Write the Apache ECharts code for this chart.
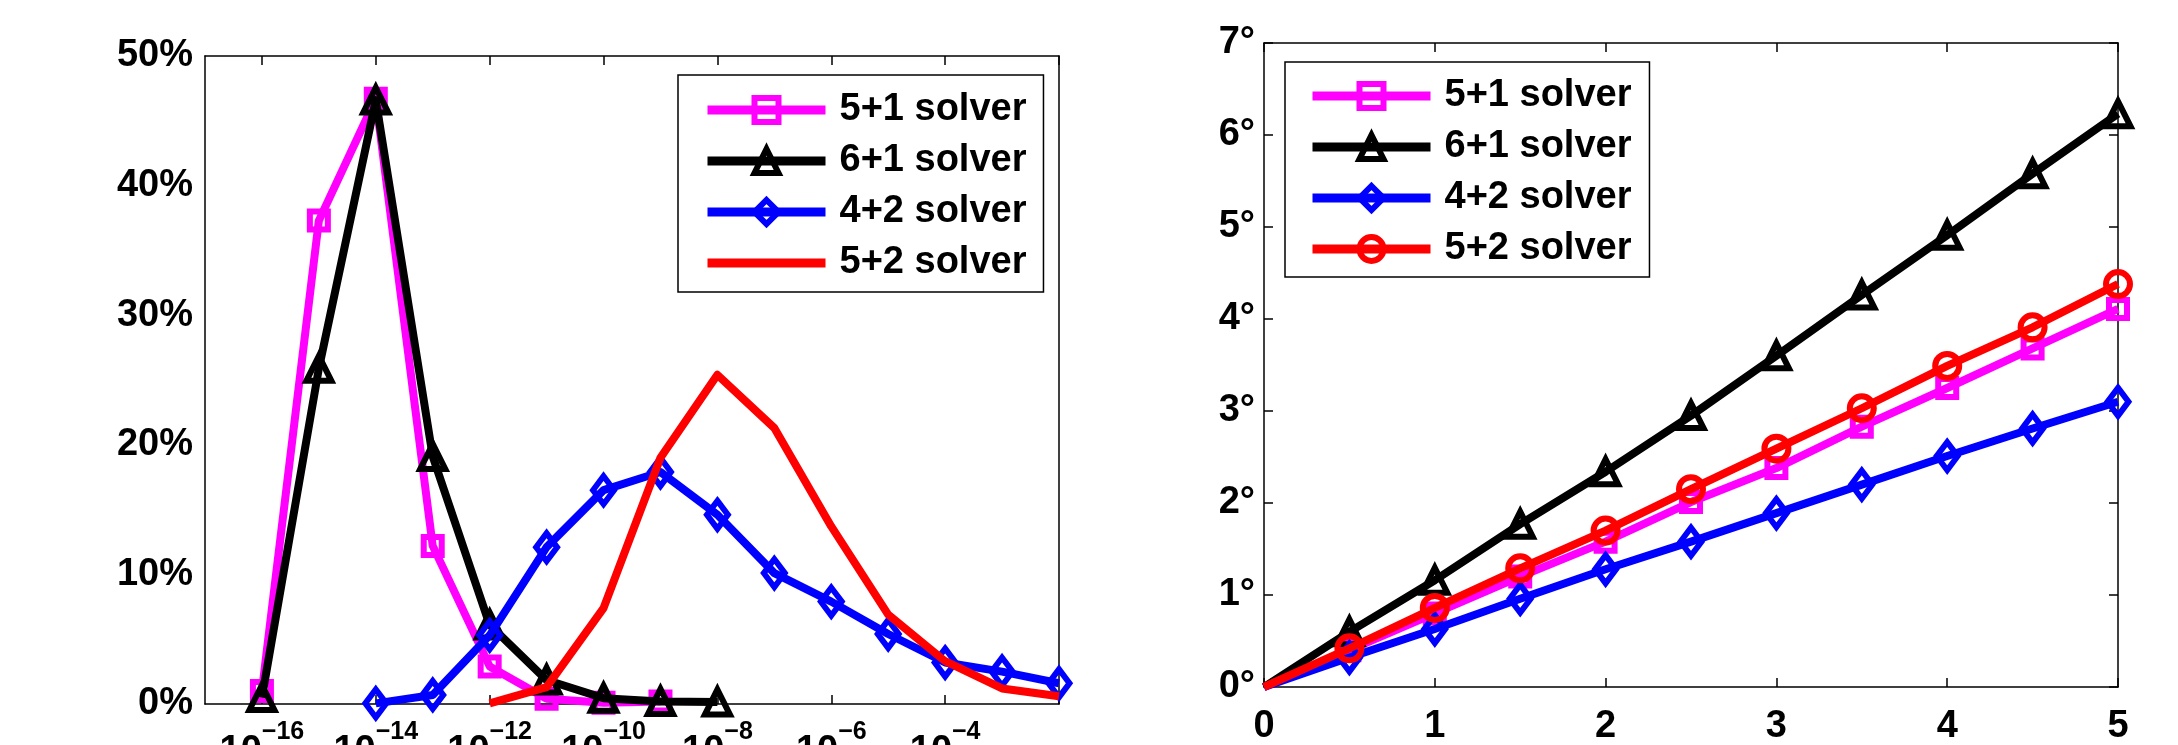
<!DOCTYPE html>
<html>
<head>
<meta charset="utf-8">
<title>solver accuracy</title>
<script src="https://cdn.jsdelivr.net/npm/echarts@6/dist/echarts.min.js"></script>
<style>
    html, body { margin: 0; padding: 0; background: #fff; }
    #chart { width: 2178px; height: 745px; }
</style>
</head>
<body>
<div id="chart"></div>
<script>
// left panel: distribution of the error, x = exponent of 10
const errExponents = [-17, -16, -15, -14, -13, -12, -11, -10, -9, -8, -7, -6, -5, -4, -3, -2];

const err51X = [-16, -15, -14, -13, -12, -11, -10, -9];
const err51Pct = [1.0, 37.3, 46.7, 12.2, 2.9, 0.4, 0.1, 0.2];

const err61X = [-16, -15, -14, -13, -12, -11, -10, -9, -8];
const err61Pct = [0.5, 25.9, 46.6, 19.1, 6.1, 1.85, 0.45, 0.2, 0.15];

const err42X = [-14, -13, -12, -11, -10, -9, -8, -7, -6, -5, -4, -3, -2];
const err42Pct = [0.05, 0.7, 5.3, 12.1, 16.5, 17.9, 14.6, 10.1, 7.9, 5.4, 3.2, 2.5, 1.6];

const err52X = [-12, -11, -10, -9, -8, -7, -6, -5, -4, -3, -2];
const err52Pct = [0.05, 1.3, 7.4, 19.0, 25.4, 21.3, 13.7, 6.9, 3.3, 1.2, 0.6];

// right panel: angular error against noise level
const noiseLevels = [0, 0.5, 1, 1.5, 2, 2.5, 3, 3.5, 4, 4.5, 5];
const ang51 = [0, 0.40, 0.80, 1.20, 1.58, 2.01, 2.38, 2.83, 3.25, 3.68, 4.11];
const ang61 = [0, 0.60, 1.16, 1.77, 2.34, 2.95, 3.60, 4.26, 4.91, 5.58, 6.23];
const ang42 = [0, 0.32, 0.63, 0.96, 1.28, 1.58, 1.89, 2.20, 2.51, 2.81, 3.10];
const ang52 = [0, 0.42, 0.86, 1.29, 1.70, 2.15, 2.59, 3.03, 3.49, 3.91, 4.38];

const solverNames = ['5+1 solver', '6+1 solver', '4+2 solver', '5+2 solver'];

const FONT = '"Liberation Sans", Arial, Helvetica, sans-serif';
const LW = 8;      // line width
const MW = 6;      // marker edge width
const CLEAR = 'rgba(0,0,0,0)';

const mychart = echarts.init(document.getElementById('chart'), null, { renderer: 'canvas' });

// x index -> category name
const pairs = (xs, ys) => xs.map((x, i) => [String(x), ys[i]]);
// first point of the right panel has no marker
const noFirstMark = (xs, ys) => xs.map((x, i) => i === 0 ? { value: [x, ys[i]], symbol: 'none' } : [x, ys[i]]);

const styles = [
    { color: '#ff00ff', symbol: 'rect', size: 18 },
    { color: '#000000', symbol: 'triangle', size: 25 },
    { color: '#0000ff', symbol: 'diamond', size: [21, 28] },
    { color: '#ff0000', symbol: 'circle', size: 24 }
];

const makeSeries = (idx, name, data, axis, withMarks) => {
    const st = styles[idx];
    return {
        name: name,
        type: 'line',
        xAxisIndex: axis,
        yAxisIndex: axis,
        data: data,
        z: 2 + idx,
        clip: false,
        symbol: withMarks ? st.symbol : 'none',
        symbolSize: st.size,
        showSymbol: withMarks,
        lineStyle: { color: st.color, width: LW, join: 'round' },
        itemStyle: {
            color: CLEAR,
            borderColor: withMarks ? st.color : CLEAR,
            borderWidth: withMarks ? MW : 0
        },
        emphasis: { disabled: true },
        animation: false
    };
};

const tickBase = {
    inside: true,
    length: 9,
    lineStyle: { color: '#000', width: 1.5 }
};
const lineBase = { show: true, onZero: false, lineStyle: { color: '#000', width: 1.5 } };
const labelBase = { color: '#000', fontFamily: FONT, fontSize: 38, fontWeight: 'bold' };

const evenDecade = (index) => index % 2 === 1;

const legendBase = {
    orient: 'vertical',
    selectedMode: false,
    backgroundColor: '#fff',
    borderColor: '#000',
    borderWidth: 1.5,
    borderRadius: 0,
    itemWidth: 118,
    itemHeight: 30,
    itemGap: 13,
    lineStyle: { width: 9 },
    itemStyle: { borderWidth: MW },
    textStyle: { color: '#000', fontFamily: FONT, fontSize: 38, fontWeight: 'bold', padding: [0, 0, 0, 9] }
};

mychart.setOption({
    backgroundColor: '#fff',
    animation: false,
    grid: [
        { left: 205, top: 56, width: 854, height: 648, outerBoundsMode: 'none', containLabel: false },
        { left: 1264, top: 43, width: 854, height: 644, outerBoundsMode: 'none', containLabel: false }
    ],
    legend: [
        Object.assign({}, legendBase, {
            left: 678, top: 75,
            padding: [16, 17, 10, 25],
            data: solverNames.map(n => n + '|err'),
            formatter: (n) => n.split('|')[0]
        }),
        Object.assign({}, legendBase, {
            left: 1285, top: 62,
            padding: [15, 18, 9, 23],
            data: solverNames.map(n => n + '|ang'),
            formatter: (n) => n.split('|')[0]
        })
    ],
    xAxis: [
        {
            type: 'category', gridIndex: 0, position: 'bottom',
            data: errExponents.map(String), boundaryGap: false,
            axisLine: lineBase,
            axisTick: Object.assign({ interval: evenDecade }, tickBase),
            axisLabel: {
                interval: (index) => index % 2 === 1 && index < errExponents.length - 1,
                margin: 16,
                formatter: (v) => '{b|10}{e|' + v.replace('-', '\u2212') + '}',
                rich: {
                    b: { fontFamily: FONT, fontSize: 38, fontWeight: 'bold', color: '#000', lineHeight: 64 },
                    e: { fontFamily: FONT, fontSize: 25, fontWeight: 'bold', color: '#000', lineHeight: 25, verticalAlign: 'top' }
                }
            },
            splitLine: { show: false }
        },
        {
            type: 'category', gridIndex: 0, position: 'top',
            data: errExponents.map(String), boundaryGap: false,
            axisLine: lineBase,
            axisTick: Object.assign({ interval: evenDecade }, tickBase),
            axisLabel: { show: false },
            splitLine: { show: false }
        },
        {
            type: 'value', gridIndex: 1, position: 'bottom',
            min: 0, max: 5, interval: 1,
            axisLine: lineBase,
            axisTick: tickBase,
            axisLabel: Object.assign({ margin: 21 }, labelBase),
            splitLine: { show: false }
        },
        {
            type: 'value', gridIndex: 1, position: 'top',
            min: 0, max: 5, interval: 1,
            axisLine: lineBase,
            axisTick: tickBase,
            axisLabel: { show: false },
            splitLine: { show: false }
        }
    ],
    yAxis: [
        {
            type: 'value', gridIndex: 0, position: 'left',
            min: 0, max: 50, interval: 10,
            axisLine: lineBase,
            axisTick: tickBase,
            axisLabel: Object.assign({ margin: 12, formatter: '{value}%', padding: [8, 0, 0, 0] }, labelBase),
            splitLine: { show: false }
        },
        {
            type: 'value', gridIndex: 0, position: 'right',
            min: 0, max: 50, interval: 10,
            axisLine: lineBase,
            axisTick: tickBase,
            axisLabel: { show: false },
            splitLine: { show: false }
        },
        {
            type: 'value', gridIndex: 1, position: 'left',
            min: 0, max: 7, interval: 1,
            axisLine: lineBase,
            axisTick: tickBase,
            axisLabel: Object.assign({ margin: 9, formatter: '{value}°', padding: [18, 0, 0, 0] }, labelBase),
            splitLine: { show: false }
        },
        {
            type: 'value', gridIndex: 1, position: 'right',
            min: 0, max: 7, interval: 1,
            axisLine: lineBase,
            axisTick: tickBase,
            axisLabel: { show: false },
            splitLine: { show: false }
        }
    ],
    series: [
        makeSeries(0, '5+1 solver|err', pairs(err51X, err51Pct), 0, true),
        makeSeries(1, '6+1 solver|err', pairs(err61X, err61Pct), 0, true),
        makeSeries(2, '4+2 solver|err', pairs(err42X, err42Pct), 0, true),
        makeSeries(3, '5+2 solver|err', pairs(err52X, err52Pct), 0, false),
        makeSeries(0, '5+1 solver|ang', noFirstMark(noiseLevels, ang51), 2, true),
        makeSeries(1, '6+1 solver|ang', noFirstMark(noiseLevels, ang61), 2, true),
        makeSeries(2, '4+2 solver|ang', noFirstMark(noiseLevels, ang42), 2, true),
        makeSeries(3, '5+2 solver|ang', noFirstMark(noiseLevels, ang52), 2, true)
    ]
});

window.addEventListener('resize', () => {
    if (mychart) {
        mychart.resize();
    }
});
</script>
</body>
</html>
